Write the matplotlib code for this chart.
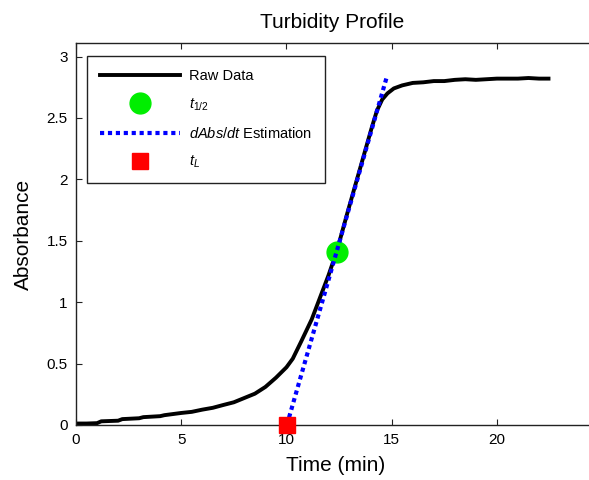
import matplotlib
matplotlib.use("Agg")
import matplotlib.pyplot as plt

plt.rcParams["font.family"] = ["Liberation Sans", "DejaVu Sans"]
plt.rcParams["mathtext.fontset"] = "custom"
plt.rcParams["mathtext.rm"] = "Liberation Sans"
plt.rcParams["mathtext.it"] = "Liberation Sans:italic"

# raw turbidity trace (min, absorbance)
time_min = [0.0, 0.5, 1.0, 1.2, 2.0, 2.2, 3.0, 3.2, 4.0, 4.2, 5.0, 5.5, 6.0, 6.5,
            7.0, 7.5, 8.0, 8.5, 9.0, 9.5, 10.0, 10.3, 10.7, 11.2, 11.6, 12.0,
            12.4, 12.9, 13.3, 13.7, 14.05, 14.3, 14.55, 14.8, 15.1, 15.5, 16.0,
            16.5, 17.0, 17.5, 18.0, 18.5, 19.0, 19.5, 20.0, 20.5, 21.0, 21.5,
            22.0, 22.45]
absorb = [0.012, 0.012, 0.015, 0.030, 0.035, 0.048, 0.055, 0.064, 0.072, 0.080,
          0.098, 0.107, 0.125, 0.140, 0.163, 0.185, 0.220, 0.255, 0.310, 0.385,
          0.470, 0.540, 0.680, 0.860, 1.040, 1.220, 1.420, 1.730, 1.970, 2.210,
          2.420, 2.560, 2.650, 2.700, 2.740, 2.765, 2.785, 2.790, 2.800, 2.800,
          2.810, 2.815, 2.810, 2.815, 2.820, 2.820, 2.820, 2.825, 2.820, 2.820]

t_half = [12.4]
abs_half = [1.41]
tan_t = [10.02, 14.76]
tan_abs = [0.0, 2.83]
t_lag = [10.02]
abs_lag = [0.0]

xticks = [0, 5, 10, 15, 20]
yticks = [0, 0.5, 1, 1.5, 2, 2.5, 3]

fig = plt.figure(figsize=(5.89, 4.8), dpi=100)
ax = fig.add_axes([76 / 589, 55 / 480, (595 - 76) / 589, 382 / 480])

ax.plot(time_min, absorb, color="black", lw=2.8, zorder=2, label="Raw Data")
ax.plot(t_half, abs_half, "o", color="#00ee00", ms=15, mec="#00ee00",
        zorder=3, label=r"$t_{\mathit{1/2}}$")
ax.plot(tan_t, tan_abs, color="blue", lw=3, dashes=(1, 0.9),
        dash_capstyle="butt", zorder=4, label=r"$dAbs/dt$ Estimation")
ax.plot(t_lag, abs_lag, "s", color="red", ms=12, mec="red", zorder=5,
        clip_on=False, label=r"$t_L$")

ax.set_xlim(0, 24.66)
ax.set_ylim(0, 3.11)
ax.set_xticks(xticks)
ax.set_yticks(yticks)
ax.set_xticklabels([str(v) for v in xticks])
ax.set_yticklabels(["0", "0.5", "1", "1.5", "2", "2.5", "3"])
ax.tick_params(direction="in", length=4, width=0.8, labelsize=11, pad=6,
               top=True, right=False, colors="#222")
ax.tick_params(labelcolor="black")
ax.spines["right"].set_visible(False)
for sp in ax.spines.values():
    sp.set_linewidth(1.0)
    sp.set_edgecolor("#222")

ax.set_xlabel("Time (min)", fontsize=15, labelpad=6)
ax.set_ylabel("Absorbance", fontsize=15, labelpad=10)
fig.text((76 + 589) / 2 / 589, 1 - 28 / 480, "Turbidity Profile",
         fontsize=15, ha="center", va="baseline")

leg = ax.legend(loc="upper left", bbox_to_anchor=(0.0212, 0.966),
                borderaxespad=0, fontsize=10.5, handlelength=5.5,
                handletextpad=0.6, labelspacing=0.9, borderpad=0.9,
                fancybox=False, framealpha=1, edgecolor="#222", numpoints=1)
leg.get_frame().set_linewidth(1.0)

fig.savefig("out.png", dpi=100)
